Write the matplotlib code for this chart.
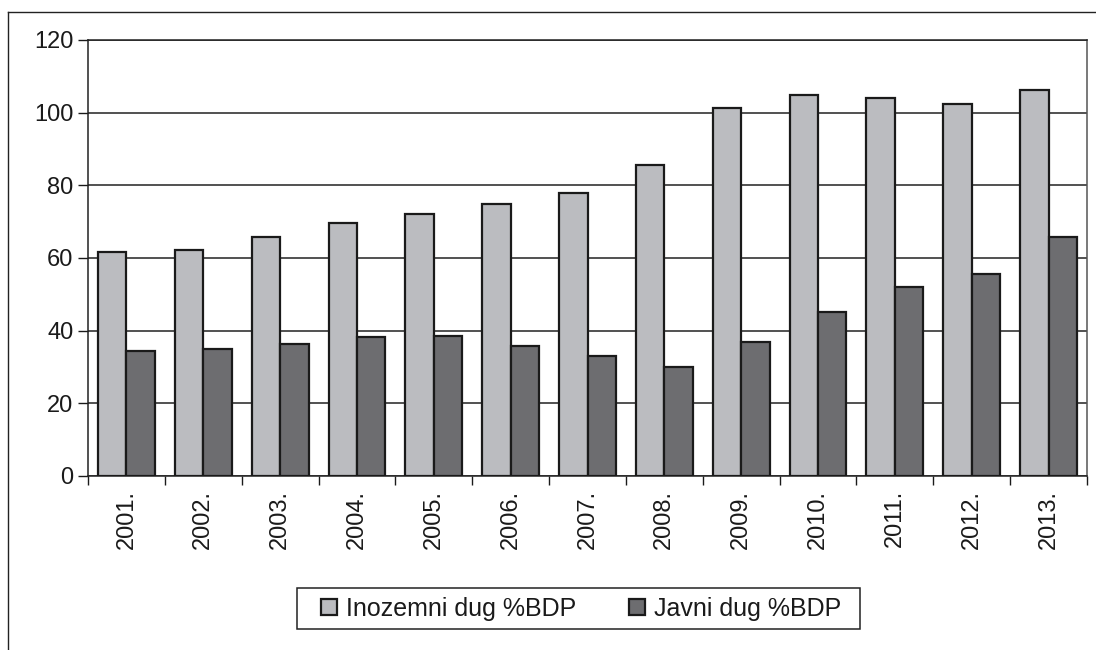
import matplotlib
matplotlib.use("Agg")
import matplotlib.pyplot as plt
from matplotlib.patches import Rectangle
import numpy as np

plt.rcParams['font.family'] = ['Liberation Sans', 'DejaVu Sans']

years = ["2001.", "2002.", "2003.", "2004.", "2005.", "2006.", "2007.",
         "2008.", "2009.", "2010.", "2011.", "2012.", "2013."]
inozemni = [61.6, 62.2, 65.7, 69.5, 72.2, 75.0, 77.8, 85.6, 101.2, 104.9, 104.0, 102.5, 106.3]
javni = [34.5, 34.9, 36.4, 38.2, 38.6, 35.9, 33.1, 29.9, 36.9, 45.1, 52.0, 55.7, 65.7]
labels = ["Inozemni dug %BDP", "Javni dug %BDP"]

W, H = 1096, 650
fig = plt.figure(figsize=(W / 100, H / 100), dpi=100)
ax = fig.add_axes([88 / W, 1 - 476 / H, 999 / W, 436 / H])

x = np.arange(len(years))
w = 0.37
ax.bar(x - w / 2, inozemni, w, color='#bbbcc0', edgecolor='#1a1a1a', linewidth=1.6,
       label=labels[0], zorder=3)
ax.bar(x + w / 2, javni, w, color='#6d6d70', edgecolor='#1a1a1a', linewidth=1.6,
       label=labels[1], zorder=3)

ax.set_xlim(-0.5, len(years) - 0.5)
ax.set_ylim(0, 120)
ax.set_yticks(range(0, 121, 20))
ax.yaxis.grid(True, color='#222222', linewidth=1.1, zorder=0)
ax.tick_params(axis='y', direction='out', length=7.5, width=1, labelsize=17, pad=3,
               colors='#1a1a1a')

# category ticks between groups, labels at centres
ax.set_xticks(np.arange(-0.5, len(years), 1.0))
ax.set_xticklabels([])
ax.set_xticks(x, minor=True)
ax.set_xticklabels(years, minor=True, rotation=90, fontsize=17, color='#1a1a1a')
ax.tick_params(axis='x', which='major', direction='out', length=6.5, width=1,
               color='#1a1a1a')
ax.tick_params(axis='x', which='minor', length=0, pad=10)

for s in ax.spines.values():
    s.set_color('#222222')
    s.set_linewidth(1.1)
ax.spines['right'].set_color('#555555')

leg = ax.legend(loc='center', bbox_to_anchor=(581 / W, 1 - 609 / H),
                bbox_transform=fig.transFigure, ncol=2, frameon=False,
                fontsize=18, handlelength=0.64, handleheight=0.64,
                handletextpad=0.36, columnspacing=2.1)
for t in leg.get_texts():
    t.set_color('#1a1a1a')

# legend frame
fig.add_artist(Rectangle((297 / W, 1 - 629 / H), 563 / W, 41 / H,
                         transform=fig.transFigure, fill=False,
                         edgecolor='#222222', linewidth=1.1))

# outer chart frame (left and top edges only visible)
fig.add_artist(plt.Line2D([8 / W, 8 / W], [0, 1 - 12 / H],
                          transform=fig.transFigure, color='#222222', linewidth=1.0))
fig.add_artist(plt.Line2D([8 / W, 1], [1 - 12 / H, 1 - 12 / H],
                          transform=fig.transFigure, color='#222222', linewidth=1.0))

fig.savefig('out.png', dpi=100)
